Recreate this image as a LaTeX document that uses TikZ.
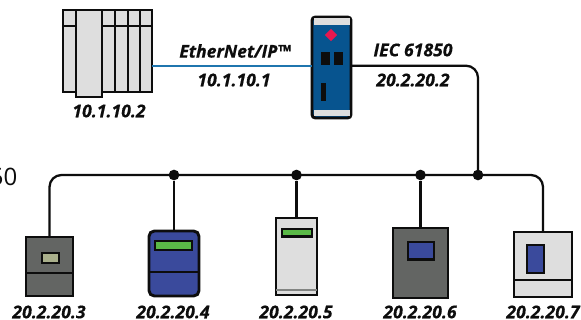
\documentclass[tikz,border=0pt]{standalone}
\usepackage{fontspec}
\setmainfont{Open Sans}
\newfontfamily\addrfont{Open Sans}[BoldItalicFeatures={FakeBold=0.5}]
\usetikzlibrary{fit,shapes.geometric}
\definecolor{ink}{HTML}{0D0D0D}
\definecolor{panel}{HTML}{DEDEDE}
\definecolor{slate}{HTML}{636563}
\definecolor{royal}{HTML}{3A4A9C}
\definecolor{navy}{HTML}{07548F}
\definecolor{linkblue}{HTML}{1F75AE}
\definecolor{lime}{HTML}{5AB947}
\definecolor{olive}{HTML}{A9AF8B}
\definecolor{signal}{HTML}{E8174F}
\tikzset{
  x=0.75pt,y=-0.75pt,
  part/.style={fit={#1},inner sep=0pt,outer sep=0pt,draw=ink,line width=2.2pt},
  slot/.style={fit={#1},inner sep=0pt,outer sep=0pt,fill=ink},
  wire/.style={draw=ink,line width=1.7pt},
  rule/.style={draw=ink,line width=2.2pt},
  joint/.style={circle,fill=ink,inner sep=0pt,minimum size=8pt},
  addr/.style={font=\fontsize{13.2}{15}\addrfont\bfseries\itshape,text=ink,inner sep=0pt}
}
\begin{document}
\begin{tikzpicture}
\useasboundingbox[clip] (0,0) rectangle (581,320);
\fill[white] (0,0) rectangle (581,320);

% controller rack
\node[part={(63,10)(152,92)},fill=panel] (plc) {};
\draw[rule] (plc.north west |- 0,26) -- (plc.north east |- 0,26);
\foreach \vx in {115,128,140} \draw[rule] (\vx,10) -- (\vx,92);
\node[part={(76,10)(102,97)},fill=panel] (plcwide) {};

% gateway
\node[part={(312,17)(351,118)},fill=navy,rounded corners=2.5pt] (gw) {};
\fill[panel] (313.5,18.5) rectangle (349.5,25);
\fill[panel] (313.5,110) rectangle (349.5,116.5);
\node[diamond,fill=signal,inner sep=0pt,minimum size=9.5pt] (led) at (331,35) {};
\node[slot={(321,52)(330,65)}] (porta) {};
\node[slot={(334,52)(343,65)}] (portb) {};
\node[slot={(321,83)(326,101)}] (portc) {};

% field devices
\node[part={(26,237)(73,296)},fill=slate] (d1) {};
\draw[rule] (d1.west |- 0,273) -- (d1.east |- 0,273);
\node[part={(42,253)(59,263)},fill=olive] (d1s) {};

\node[part={(149,231)(199,296)},fill=royal,rounded corners=4pt] (d2) {};
\draw[rule] (d2.west |- 0,272) -- (d2.east |- 0,272);
\node[part={(155,241)(192,250)},fill=lime] (d2s) {};

\node[part={(276,218)(317,295)},fill=panel] (d3) {};
\draw[draw=slate!80,line width=1.3pt] (d3.west |- 0,290) -- (d3.east |- 0,290);
\node[part={(282,229)(312,236.5)},fill=lime] (d3s) {};

\node[part={(393,228)(448,298)},fill=slate] (d4) {};
\node[part={(408,242)(434,259.5)},fill=royal] (d4s) {};

\node[part={(514,232)(572,297)},fill=panel] (d5) {};
\draw[rule] (d5.west |- 0,280) -- (d5.east |- 0,280);
\node[part={(527,245)(544,273)},fill=royal] (d5s) {};

% connectors
\coordinate (bus) at (300,175);
\coordinate (link) at (230,65.7);
\node[joint] (j2) at (d2.north |- bus) {};
\node[joint] (j3) at (d3.north |- bus) {};
\node[joint] (j4) at (d4.north |- bus) {};
\node[joint] (j5) at (478,175) {};
\draw[draw=linkblue,line width=1.3pt] (plc.east |- link) -- (gw.west |- link);
\draw[wire,rounded corners=9pt] (gw.east |- link) -| (j5.center);
\draw[wire,rounded corners=9pt] (d1.north) |- (j5.center) -| (d5.north);
\draw[wire] (j2) -- (d2.north);
\draw[wire] (j3) -- (d3.north);
\draw[wire] (j4) -- (d4.north);

% labels
\node[addr] (t1) at (109,111) {10.1.10.2};
\node[addr] (t2) at (235,51) {EtherNet/IP™};
\node[addr] (t3) at (234,80) {10.1.10.1};
\node[addr] (t4) at (413,50) {IEC 61850};
\node[addr] (t5) at (413,80) {20.2.20.2};
\node[addr] (t6) at (49,312) {20.2.20.3};
\node[addr] (t7) at (173,312) {20.2.20.4};
\node[addr] (t8) at (296,312) {20.2.20.5};
\node[addr] (t9) at (420,312) {20.2.20.6};
\node[addr] (t10) at (543,312) {20.2.20.7};
\node[anchor=east,inner sep=0pt,font=\fontsize{18}{20}\selectfont,text=ink] (t11) at (17.5,177) {50};
\end{tikzpicture}
\end{document}
